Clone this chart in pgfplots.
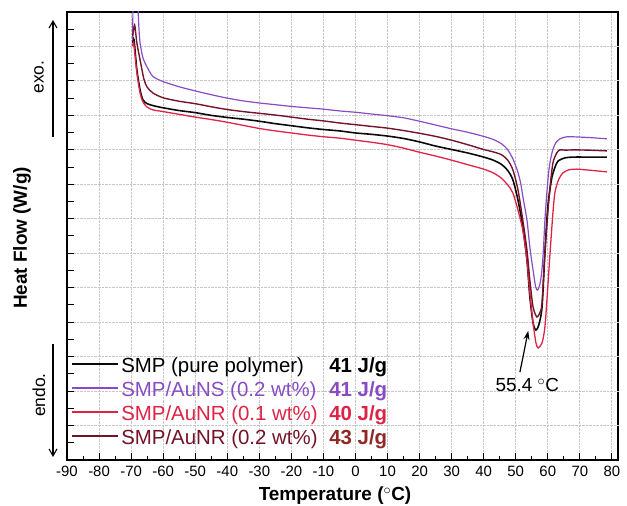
\documentclass[border=0pt]{standalone}
\usepackage{pgfplots}
\pgfplotsset{compat=1.18}
\usetikzlibrary{arrows.meta}
\usepackage{fontspec}
\setmainfont{Liberation Sans}
\definecolor{cblack}{RGB}{10,10,10}
\definecolor{cpurp}{RGB}{135,75,195}
\definecolor{cred}{RGB}{222,35,70}
\definecolor{cbrown}{RGB}{115,20,40}
\definecolor{cbrownt}{RGB}{145,40,40}
\begin{document}
\begin{tikzpicture}
\path[use as bounding box] (-67bp,-46bp) rectangle (560bp,460bp);
\begin{axis}[
  at={(0,0)}, anchor=south west,
  scale only axis, width=551bp, height=448bp,
  xmin=-90, xmax=81.9, ymin=0, ymax=13,
  xtick={-90,-80,...,80}, minor x tick num=1,
  ytick={0,0.5,...,13}, yticklabels={},
  extra y ticks={1,2,...,12}, extra y tick labels={},
  extra y tick style={ymajorgrids=true},
  xmajorgrids=true, ymajorgrids=false,
  major grid style={densely dotted, gray!45, line width=0.9pt},
  xtick pos=bottom, ytick pos=left,
  tick align=inside,
  major tick length=7bp, minor tick length=4bp,
  every tick/.style={black, line width=1pt},
  axis line style={line width=1.2pt},
  xticklabel style={font=\fontsize{15}{18}\selectfont, yshift=-3bp},
  /pgf/number format/assume math mode=true,
  clip=true,
  legend cell align=left,
  legend image code/.code={\draw[#1] (0bp,3.5bp) -- (46bp,3.5bp);},
  legend style={draw=none, fill=none, at={(axis cs:-88.6,0.24)}, anchor=south west,
    font=\fontsize{20.5}{24}\selectfont, row sep=0bp, inner sep=0pt,
    nodes={inner sep=2bp, text height=15bp, text depth=5bp}},
]
\addplot[cblack, line width=1.6pt, smooth, tension=0.45] coordinates {
(-69.5,12.10) (-69.1,12.20) (-68.2,11.32) (-67.2,10.74) (-66.3,10.45) (-65.0,10.34)
(-63.0,10.28) (-60,10.22) (-55,10.14) (-50,10.08) (-45,10.00) (-40,9.94) (-35,9.89)
(-30,9.83) (-25,9.76) (-20,9.70) (-15,9.64) (-10,9.59) (-5,9.55) (0,9.49) (5,9.45)
(10,9.40) (15,9.33) (20,9.23) (25,9.11) (30,9.01) (35,8.91) (40,8.79) (43,8.70)
(45.5,8.58) (47.5,8.40) (49.1,8.13) (50.7,7.54) (52.2,6.76) (53.5,5.80) (54.4,4.73)
(55.4,3.98) (56.3,3.77) (57.2,3.92) (58.2,4.44) (59.1,6.01) (60.0,7.34) (61.3,8.21)
(62.8,8.62) (63.8,8.71) (65.5,8.77) (68,8.79) (73,8.79) (78.4,8.79)};
\addlegendentry{\makebox[208bp][l]{SMP (pure polymer)}\textbf{41 J/g}}
\addplot[cpurp, line width=1.2pt, smooth, tension=0.45] coordinates {
(-69.5,12.2) (-69.35,13.5) (-68.7,14.2) (-68.0,13.4) (-67.6,12.6) (-67.2,12.10)
(-66.3,11.67) (-65.0,11.40) (-63.2,11.13) (-60,10.98) (-55,10.83) (-50,10.71)
(-45,10.60) (-40,10.50) (-35,10.42) (-30,10.36) (-25,10.31) (-20,10.26) (-15,10.22)
(-10,10.18) (-5,10.13) (0,10.09) (5,10.04) (10,9.99) (15,9.93) (20,9.83) (25,9.72)
(30,9.61) (35,9.51) (40,9.39) (43,9.30) (45.5,9.18) (47.5,9.00) (49.1,8.74)
(50.5,8.40) (51.5,8.05) (52.3,7.60) (53.5,6.96) (54.4,6.18) (55.4,5.51) (56.2,5.03)
(56.8,4.93) (57.5,5.08) (58.1,5.45) (58.6,6.05) (59.1,6.96) (59.7,7.75) (60.3,8.38)
(61.0,8.79) (61.7,9.04) (62.6,9.22) (63.8,9.32) (66.0,9.38) (70.0,9.37) (74,9.35)
(78.4,9.32)};
\addlegendentry{\color{cpurp}\makebox[208bp][l]{SMP/AuNS (0.2 wt\%)}\textbf{41 J/g}}
\addplot[cred, line width=1.3pt, smooth, tension=0.45] coordinates {
(-69.5,12.00) (-69.2,12.10) (-68.2,11.23) (-67.2,10.65) (-66.3,10.39) (-65.0,10.24)
(-63.2,10.16) (-60,10.11) (-55,10.03) (-50,9.95) (-45,9.88) (-40,9.80) (-35,9.71)
(-30,9.62) (-25,9.55) (-20,9.49) (-15,9.43) (-10,9.38) (-5,9.34) (0,9.28) (5,9.22)
(10,9.15) (15,9.05) (20,8.93) (25,8.82) (30,8.70) (35,8.57) (40,8.44) (43,8.33)
(45.5,8.18) (47.5,7.98) (49.1,7.75) (50.7,7.25) (52.2,6.67) (53.5,5.80) (54.4,4.85)
(55.4,3.98) (56.3,3.40) (57.0,3.25) (58.2,3.40) (59.1,3.86) (60.0,5.02) (60.7,6.01)
(61.6,7.17) (62.2,7.75) (63.1,8.07) (63.8,8.21) (64.7,8.33) (66.5,8.42) (69,8.44)
(73,8.41) (78.4,8.36)};
\addlegendentry{\color{cred}\makebox[208bp][l]{SMP/AuNR (0.1 wt\%)}\textbf{40 J/g}}
\addplot[cbrown, line width=1.4pt, smooth, tension=0.45] coordinates {
(-69.5,12.30) (-68.9,12.62) (-68.2,12.10) (-67.2,11.61) (-66.0,11.05) (-65.0,10.82)
(-63.2,10.65) (-60,10.51) (-55,10.41) (-50,10.34) (-45,10.25) (-40,10.17) (-35,10.11)
(-30,10.06) (-25,10.01) (-20,9.95) (-15,9.89) (-10,9.84) (-5,9.78) (0,9.73) (5,9.68)
(10,9.63) (15,9.56) (20,9.48) (25,9.39) (30,9.28) (35,9.15) (40,9.01) (43,8.94)
(45.5,8.86) (47.5,8.70) (49.1,8.42) (50.7,7.84) (52.2,6.96) (53.5,6.09) (54.4,5.22)
(55.4,4.44) (56.6,4.15) (57.5,4.27) (58.2,4.55) (59.1,6.01) (60.0,7.17) (60.7,7.92)
(61.6,8.62) (62.8,8.91) (63.8,9.00) (65.5,8.99) (68,9.00) (73,8.99) (78.4,8.97)};
\addlegendentry{\color{cbrown}\makebox[208bp][l]{SMP/AuNR (0.2 wt\%)}\textbf{\color{cbrownt}43 J/g}}
\draw[-{Stealth[length=9bp,width=6bp]}, line width=1.2pt] (axis cs:51.3,2.55) -- (axis cs:53.9,3.75);
\node[font=\fontsize{19}{22}\selectfont] at (axis cs:53.6,2.18) {55.4 $^{\circ}$C};
\end{axis}
\node[rotate=90, font=\bfseries\fontsize{19}{22}\selectfont] at (-45bp,222bp) {Heat Flow (W/g)};
\node[font=\bfseries\fontsize{19}{22}\selectfont] at (268bp,-36bp) {Temperature ($^{\circ}$C)};
\node[rotate=90, font=\fontsize{17.5}{20}\selectfont] at (-28bp,383bp) {exo.};
\node[rotate=90, font=\fontsize{17.5}{20}\selectfont] at (-28bp,65bp) {endo.};
\draw[-{Straight Barb[length=7bp,width=8bp]}, line width=1.1pt] (-14bp,323bp) -- (-14bp,440bp);
\draw[-{Straight Barb[length=7bp,width=8bp]}, line width=1.1pt] (-14bp,116bp) -- (-14bp,3bp);
\end{tikzpicture}
\end{document}
